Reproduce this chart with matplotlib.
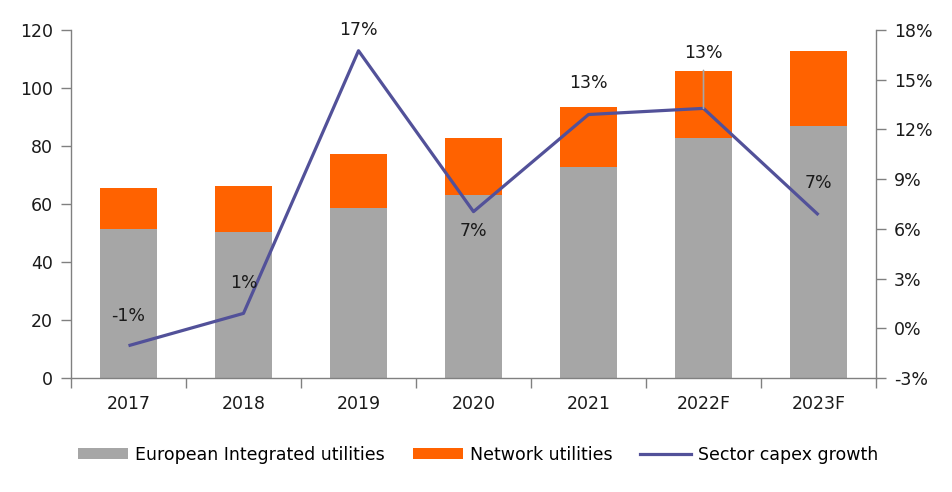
import matplotlib
matplotlib.use("Agg")
import matplotlib.pyplot as plt
from matplotlib.patches import Patch
from matplotlib.lines import Line2D
import numpy as np

categories = ["2017", "2018", "2019", "2020", "2021", "2022F", "2023F"]
integrated = [51.4, 50.3, 58.6, 63.1, 72.8, 82.8, 86.8]
network = [14.0, 15.9, 18.5, 19.7, 20.5, 23.1, 26.1]
capex_growth = [-1.05, 0.9, 16.75, 7.04, 12.9, 13.27, 6.84]
growth_labels = ["-1%", "1%", "17%", "7%", "13%", "13%", "7%"]
left_ticks = [0, 20, 40, 60, 80, 100, 120]
right_ticks = [-3, 0, 3, 6, 9, 12, 15, 18]

GRAY = "#A6A6A6"
ORANGE = "#FF6200"
PURPLE = "#525199"
SPINE = "#808080"
TEXT = "#1a1a1a"
FS = 12.5

plt.rcParams["font.family"] = ["DejaVu Sans"]

fig = plt.figure(figsize=(9.52, 4.92), dpi=100)
ax = fig.add_axes([71/952, 1-378/492, (876-71)/952, 348/492])
ax2 = ax.twinx()

x = np.arange(len(categories))
ax.bar(x, integrated, width=0.5, color=GRAY, zorder=2)
ax.bar(x, network, width=0.5, bottom=integrated, color=ORANGE, zorder=2)

ax.set_xlim(-0.5, len(categories) - 0.5)
ax.set_ylim(0, 120)
ax.set_yticks(left_ticks)
ax.set_yticklabels([str(t) for t in left_ticks])

ax2.set_ylim(-3, 18)
ax2.set_yticks(right_ticks)
ax2.set_yticklabels([f"{t}%" for t in right_ticks])
ax2.plot(x, capex_growth, color=PURPLE, lw=2.3, zorder=3, solid_capstyle="butt")

# data labels (offsets in pixels)
offsets = [(0, 30), (0, 30), (0, 21), (0, -19), (0, 32), (0, 55), (0, 32)]
for i, (lab, off) in enumerate(zip(growth_labels, offsets)):
    ax2.annotate(lab, (x[i], capex_growth[i]), xytext=off, textcoords="offset pixels",
                 ha="center", va="center", fontsize=FS, color=TEXT, zorder=5)
# leader line for 2022F label
ax2.annotate("", (x[5], capex_growth[5]), xytext=(0, 38), textcoords="offset pixels",
             arrowprops=dict(arrowstyle="-", color="#A6A6A6", lw=1.2, shrinkA=0, shrinkB=0))

# x ticks at category boundaries
ax.set_xticks(x)
ax.set_xticklabels(categories)
ax.set_xticks(np.arange(-0.5, len(categories) + 0.5, 1), minor=True)
ax.tick_params(axis="x", which="major", length=0, pad=12, labelsize=FS, colors=TEXT)
ax.tick_params(axis="x", which="minor", length=7, width=1, color=SPINE, direction="out")
ax.tick_params(axis="y", length=7, width=1, color=SPINE, pad=6, labelsize=FS, labelcolor=TEXT)
ax2.tick_params(axis="y", length=7, width=1, color=SPINE, pad=6, labelsize=FS, labelcolor=TEXT)

for a in (ax, ax2):
    a.spines["top"].set_visible(False)
    for s in ("left", "right", "bottom"):
        a.spines[s].set_color(SPINE)
        a.spines[s].set_linewidth(1)
ax.spines["right"].set_visible(False)
ax2.spines["left"].set_visible(False)
ax2.spines["bottom"].set_visible(False)

handles = [Patch(facecolor=GRAY, label="European Integrated utilities"),
           Patch(facecolor=ORANGE, label="Network utilities"),
           Line2D([0], [0], color=PURPLE, lw=2.3, label="Sector capex growth")]
fig.legend(handles=handles, loc="center", bbox_to_anchor=(478/952, 1-455/492), ncol=3,
           frameon=False, fontsize=FS, handlelength=2.9, handleheight=0.6,
           handletextpad=0.4, columnspacing=1.6)

fig.savefig("out.png", dpi=100)
